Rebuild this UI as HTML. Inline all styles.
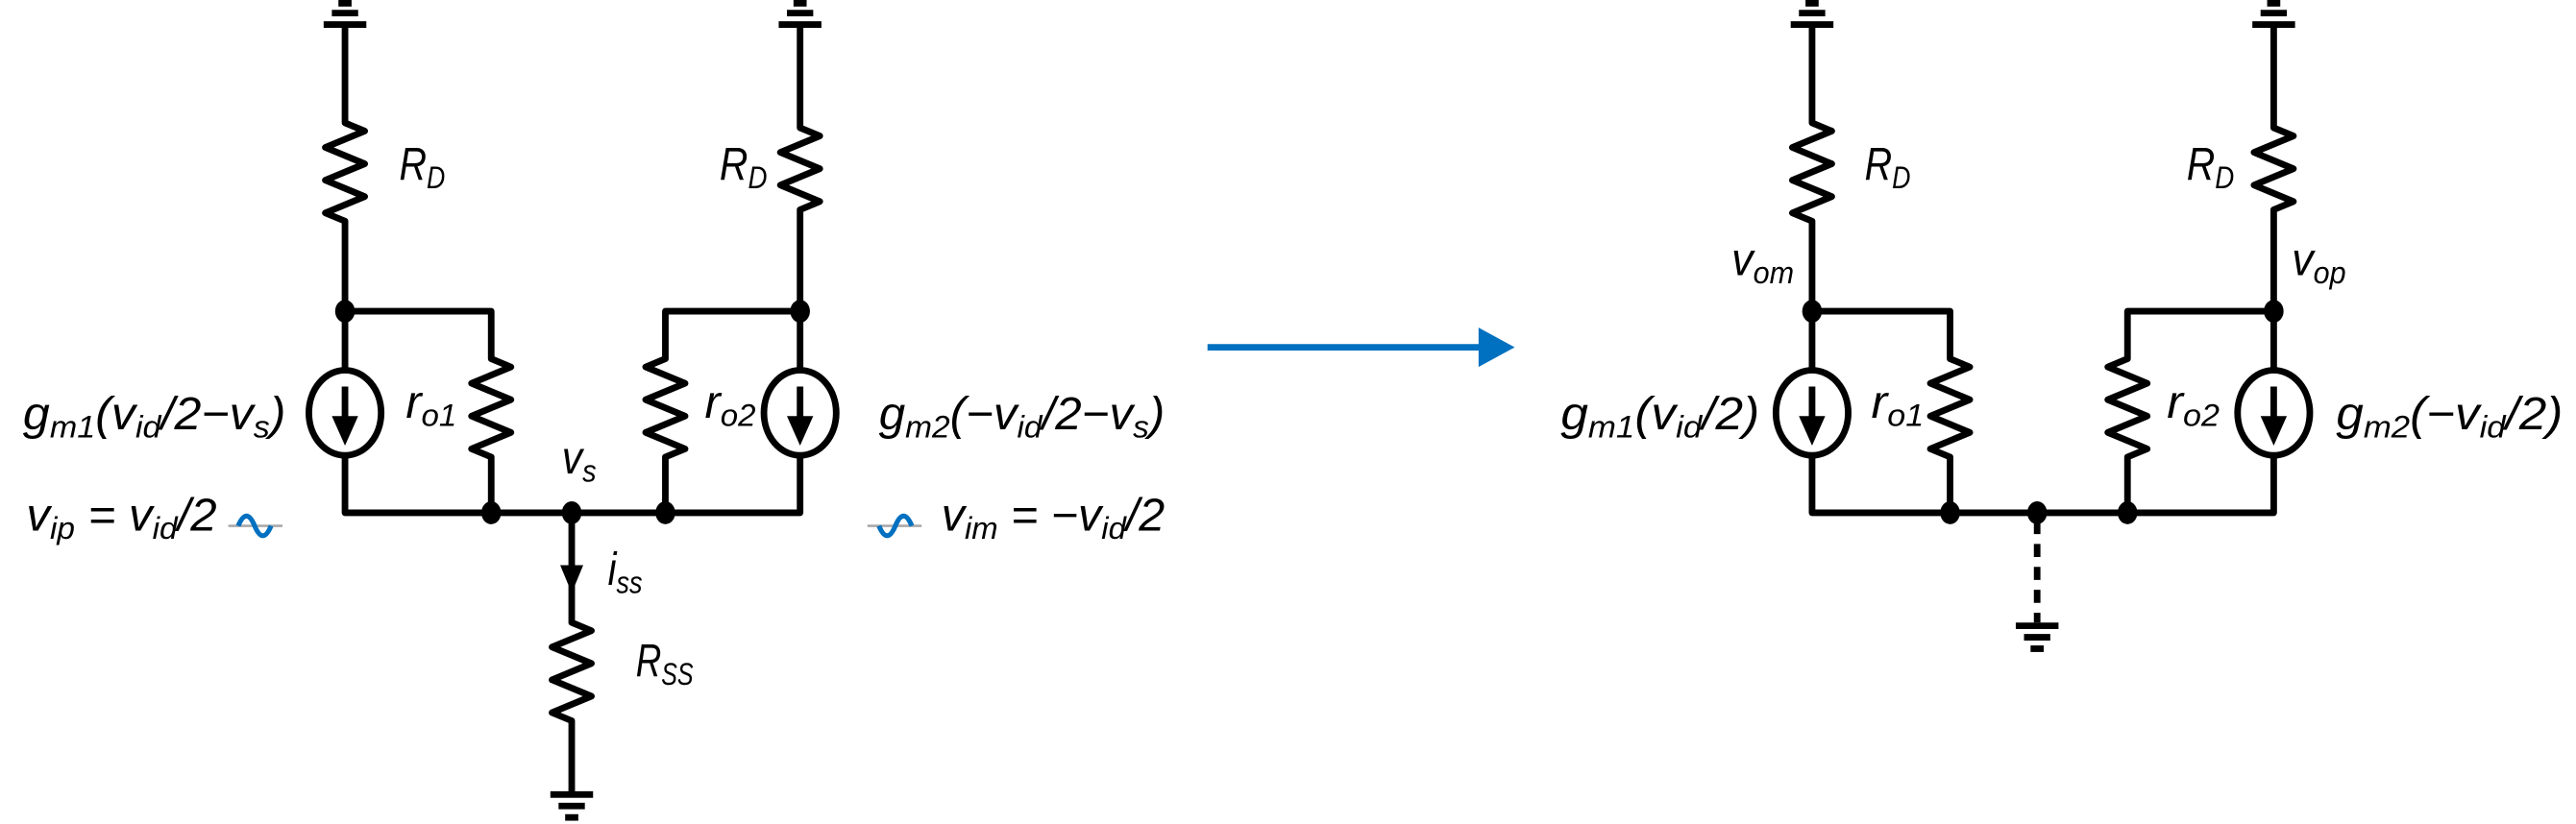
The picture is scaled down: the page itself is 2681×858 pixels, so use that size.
<!DOCTYPE html>
<html><head><meta charset="utf-8"><style>
html,body{margin:0;padding:0;background:#fff;width:2681px;height:858px;overflow:hidden}
svg{display:block}
text{font-family:"Liberation Sans",sans-serif;font-style:italic;fill:#000}
</style></head><body>
<svg width="2681" height="858" viewBox="0 0 1568 503" preserveAspectRatio="none">
<defs>
<g id="vdd" stroke="#000" stroke-width="4" fill="none">
 <line x1="-4" y1="2" x2="4" y2="2"/><line x1="-8" y1="8" x2="8" y2="8"/><line x1="-13" y1="15" x2="13" y2="15"/>
</g>
<g id="gnd" stroke="#000" stroke-width="4" fill="none">
 <line x1="-13" y1="0" x2="13" y2="0"/><line x1="-8" y1="7" x2="8" y2="7"/><line x1="-4" y1="14" x2="4" y2="14"/>
</g>
</defs>
<g fill="none" stroke="#000" stroke-width="4" stroke-linejoin="round">
<g>
<path d="M210 15 V75 l12 5 -24 10 24 10 -24 10 24 10 -24 10 12 5 V227 M210 277 V313 H487 V277 M487 227 V128 l12 -5 -24 -10 24 -10 -24 -10 24 -10 -12 -5 V15"/>
<path d="M210 190 H299 V219 l12 5 -24 10 24 10 -24 10 24 10 -24 10 12 5 V313"/>
<path d="M487 190 H405 V219 l-12 5 24 10 -24 10 24 10 -24 10 24 10 -12 5 V313"/>
<ellipse cx="210" cy="252" rx="22" ry="26"/>
<ellipse cx="487" cy="252" rx="22" ry="26"/>
<line x1="210" y1="236" x2="210" y2="258"/><line x1="487" y1="236" x2="487" y2="258"/>
<path d="M348 313 V380 l12 5 -24 10 24 10 -24 10 24 10 -24 10 12 5 V485"/>
</g>
<g>
<path d="M1103 15 V75 l12 5 -24 10 24 10 -24 10 24 10 -24 10 12 5 V227 M1103 277 V313 H1384 V277 M1384 227 V128 l12 -5 -24 -10 24 -10 -24 -10 24 -10 -12 -5 V15"/>
<path d="M1103 190 H1187 V219 l12 5 -24 10 24 10 -24 10 24 10 -24 10 12 5 V313"/>
<path d="M1384 190 H1295 V219 l-12 5 24 10 -24 10 24 10 -24 10 24 10 -12 5 V313"/>
<ellipse cx="1103" cy="252" rx="22" ry="26"/><ellipse cx="1384" cy="252" rx="22" ry="26"/>
<line x1="1103" y1="236" x2="1103" y2="258"/><line x1="1384" y1="236" x2="1384" y2="258"/>
<line x1="1240" y1="318" x2="1240" y2="380" stroke-dasharray="8 6"/>
</g>
</g>
<g fill="#000">
<polygon points="202,254 218,254 210,272"/><polygon points="479,254 495,254 487,272"/>
<polygon points="1095,254 1111,254 1103,272"/><polygon points="1376,254 1392,254 1384,272"/>
<polygon points="341,345 355,345 348,362"/>
<ellipse cx="210" cy="190" rx="6" ry="7"/><ellipse cx="487" cy="190" rx="6" ry="7"/>
<ellipse cx="299" cy="313" rx="6" ry="7"/><ellipse cx="348" cy="313" rx="6" ry="7"/><ellipse cx="405" cy="313" rx="6" ry="7"/>
<ellipse cx="1103" cy="190" rx="6" ry="7"/><ellipse cx="1384" cy="190" rx="6" ry="7"/>
<ellipse cx="1187" cy="313" rx="6" ry="7"/><ellipse cx="1240" cy="313" rx="6" ry="7"/><ellipse cx="1295" cy="313" rx="6" ry="7"/>
</g>
<use href="#vdd" x="210" y="0"/><use href="#vdd" x="487" y="0"/>
<use href="#vdd" x="1103" y="0"/><use href="#vdd" x="1384" y="0"/>
<use href="#gnd" x="348" y="485"/><use href="#gnd" x="1240" y="382"/>
<g><line x1="139" y1="321" x2="172" y2="321" stroke="#aaa" stroke-width="1.5"/><path d="M145 321 q5 -12 10 0 t10 0" stroke="#0070c0" stroke-width="3" fill="none"/></g>
<g><line x1="528" y1="321" x2="561" y2="321" stroke="#aaa" stroke-width="1.5"/><path d="M535 321 q5 12 10 0 t10 0" stroke="#0070c0" stroke-width="3" fill="none"/></g>
<g><line x1="735" y1="212" x2="905" y2="212" stroke="#0070c0" stroke-width="4"/><polygon points="900,200 922,212 900,224" fill="#0070c0"/></g>
<g font-size="28">
<text x="243" y="110" textLength="28" lengthAdjust="spacingAndGlyphs">R<tspan font-size="19" dy="5">D</tspan></text>
<text x="438" y="110" textLength="29" lengthAdjust="spacingAndGlyphs">R<tspan font-size="19" dy="5">D</tspan></text>
<text x="14" y="262" textLength="160" lengthAdjust="spacingAndGlyphs">g<tspan font-size="19" dy="5">m1</tspan><tspan dy="-5">(v</tspan><tspan font-size="19" dy="5">id</tspan><tspan dy="-5">/2−v</tspan><tspan font-size="19" dy="5">s</tspan><tspan dy="-5">)</tspan></text>
<text x="247" y="255" textLength="31" lengthAdjust="spacingAndGlyphs">r<tspan font-size="19" dy="5">o1</tspan></text>
<text x="429" y="255" textLength="31" lengthAdjust="spacingAndGlyphs">r<tspan font-size="19" dy="5">o2</tspan></text>
<text x="535" y="262" textLength="174" lengthAdjust="spacingAndGlyphs">g<tspan font-size="19" dy="5">m2</tspan><tspan dy="-5">(−v</tspan><tspan font-size="19" dy="5">id</tspan><tspan dy="-5">/2−v</tspan><tspan font-size="19" dy="5">s</tspan><tspan dy="-5">)</tspan></text>
<text x="342" y="289" textLength="21" lengthAdjust="spacingAndGlyphs">v<tspan font-size="19" dy="5">s</tspan></text>
<text x="16" y="324" textLength="116" lengthAdjust="spacingAndGlyphs">v<tspan font-size="19" dy="5">ip</tspan><tspan dy="-5"> = v</tspan><tspan font-size="19" dy="5">id</tspan><tspan dy="-5">/2</tspan></text>
<text x="573" y="324" textLength="136" lengthAdjust="spacingAndGlyphs">v<tspan font-size="19" dy="5">im</tspan><tspan dy="-5"> = −v</tspan><tspan font-size="19" dy="5">id</tspan><tspan dy="-5">/2</tspan></text>
<text x="370" y="357" textLength="21" lengthAdjust="spacingAndGlyphs">i<tspan font-size="19" dy="5">ss</tspan></text>
<text x="387" y="413" textLength="35" lengthAdjust="spacingAndGlyphs">R<tspan font-size="19" dy="5">SS</tspan></text>
<text x="1135" y="110" textLength="28" lengthAdjust="spacingAndGlyphs">R<tspan font-size="19" dy="5">D</tspan></text>
<text x="1331" y="110" textLength="29" lengthAdjust="spacingAndGlyphs">R<tspan font-size="19" dy="5">D</tspan></text>
<text x="1054" y="168" textLength="38" lengthAdjust="spacingAndGlyphs">v<tspan font-size="19" dy="5">om</tspan></text>
<text x="1395" y="168" textLength="33" lengthAdjust="spacingAndGlyphs">v<tspan font-size="19" dy="5">op</tspan></text>
<text x="950" y="262" textLength="121" lengthAdjust="spacingAndGlyphs">g<tspan font-size="19" dy="5">m1</tspan><tspan dy="-5">(v</tspan><tspan font-size="19" dy="5">id</tspan><tspan dy="-5">/2)</tspan></text>
<text x="1139" y="255" textLength="32" lengthAdjust="spacingAndGlyphs">r<tspan font-size="19" dy="5">o1</tspan></text>
<text x="1319" y="255" textLength="32" lengthAdjust="spacingAndGlyphs">r<tspan font-size="19" dy="5">o2</tspan></text>
<text x="1422" y="262" textLength="138" lengthAdjust="spacingAndGlyphs">g<tspan font-size="19" dy="5">m2</tspan><tspan dy="-5">(−v</tspan><tspan font-size="19" dy="5">id</tspan><tspan dy="-5">/2)</tspan></text>
</g>
</svg>
</body></html>
